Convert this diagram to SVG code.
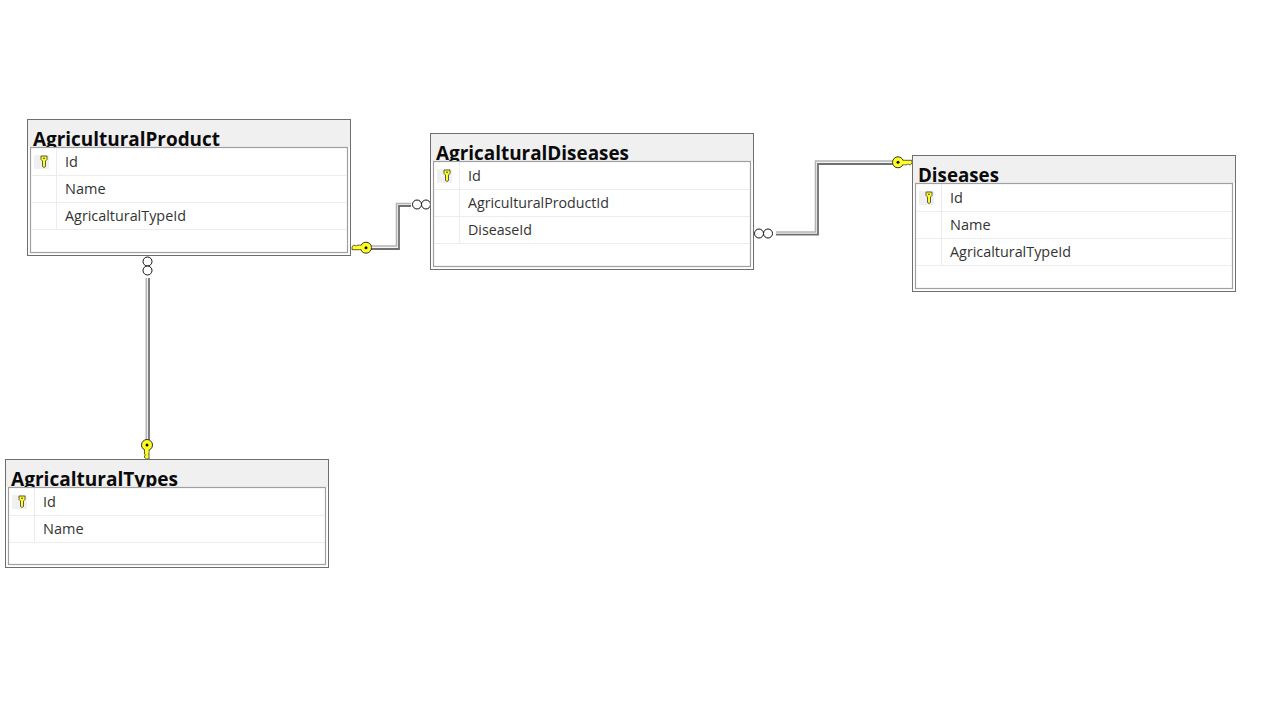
<svg xmlns="http://www.w3.org/2000/svg" xmlns:xlink="http://www.w3.org/1999/xlink" width="1288" height="712" viewBox="0 0 1288 712">
<style>
.outer{fill:#fff;stroke:#6e6e6e;stroke-width:1}
.band{fill:#f0f0f0}
.inner{fill:#fff;stroke:#a0a0a0;stroke-width:1.2}
.rule{stroke:#ececec;stroke-width:1;fill:none}
.cell{fill:#f0f0f0}
.title{font-family:"Open Sans","Liberation Sans",sans-serif;font-weight:700;font-size:20px;fill:#0a0a0a}
.row{font-family:"Open Sans","Liberation Sans",sans-serif;font-size:14.5px;fill:#333}
.light{fill:none;stroke:#b4b4b4;stroke-width:1.6}
.dark{fill:none;stroke:#707070;stroke-width:1.8}
.gap{fill:none;stroke:#f4f4f4;stroke-width:2}
.ring{fill:#fff;stroke:#111;stroke-width:1}
.keyb{fill:#ffff22;stroke:#333;stroke-width:.8}
</style>
<defs>
<g id="pk">
<path d="M-3 -5H3V-1.500L1.500 0V5.500L0 6.500L-1.500 5.500V0L-3 -1.500Z" class="keyb"/>
<circle cx="0" cy="-2.800" r=".8" fill="#222"/>
</g>
<g id="fk">
<path d="M4 -2H14V.5L12.500 2.500H11L10 1.500L9 2.500H4Z" class="keyb"/>
<circle cx="0" cy="0" r="5.500" class="keyb" style="stroke-width:1"/>
<rect x="4" y="-1.500" width="3" height="3.500" fill="#ffff22"/>
<circle cx="0" cy="0" r="1.500" fill="#111"/>
</g>
</defs>
<rect width="1288" height="712" fill="#fff"/>

<g id="connectors">
<g id="product-to-diseases-link">
<path class="gap" d="M371 247.500H397.500V204.700H411"/>
<path class="light" d="M371 246H396.500V203.500H411"/>
<path class="dark" d="M371 249H399V206H411"/>
<circle class="ring" cx="417" cy="204.500" r="4.500"/>
<circle class="ring" cx="426" cy="204.500" r="4.500"/>
<use xlink:href="#fk" href="#fk" transform="translate(366 247.700) rotate(180)"/>
</g>
<g id="link-to-diseases">
<path class="gap" d="M776 233.500H816.500V162.500H893"/>
<path class="light" d="M776 232H815.500V161H893"/>
<path class="dark" d="M776 234.700H818V164H893"/>
<circle class="ring" cx="759" cy="233.500" r="4.500"/>
<circle class="ring" cx="768" cy="233.500" r="4.500"/>
<use xlink:href="#fk" href="#fk" transform="translate(898 162.300)"/>
</g>
<g id="product-to-types">
<path class="gap" d="M147.700 278V440"/>
<path class="light" d="M146.300 278V440"/>
<path class="dark" d="M149 278V440"/>
<circle class="ring" cx="147.500" cy="261.500" r="4.500"/>
<circle class="ring" cx="147.500" cy="270.500" r="4.500"/>
<use xlink:href="#fk" href="#fk" transform="translate(147 445) rotate(90)"/>
</g>
</g>

<g id="AgriculturalProduct" transform="translate(27 119)">
<rect class="outer" x=".5" y=".5" width="323" height="136"/>
<rect class="band" x="1" y="1" width="322" height="27"/>
<text class="title" x="6" y="26.500" textLength="187" lengthAdjust="spacingAndGlyphs">AgriculturalProduct</text>
<rect class="inner" x="3.500" y="28.500" width="317" height="105"/>
<path class="rule" d="M4 56.500H320M4 83.500H320M4 110.500H320M29.500 29V110"/>
<rect class="cell" x="7" y="36" width="15" height="14"/>
<use xlink:href="#pk" href="#pk" x="17" y="42"/>
<text class="row" x="38" y="48">Id</text>
<text class="row" x="38" y="75">Name</text>
<text class="row" x="38" y="102" textLength="121" lengthAdjust="spacingAndGlyphs">AgricalturalTypeId</text>
</g>

<g id="AgricalturalDiseases" transform="translate(430 133)">
<rect class="outer" x=".5" y=".5" width="323" height="136"/>
<rect class="band" x="1" y="1" width="322" height="27"/>
<text class="title" x="6" y="26.500" textLength="193" lengthAdjust="spacingAndGlyphs">AgricalturalDiseases</text>
<rect class="inner" x="3.500" y="28.500" width="317" height="105"/>
<path class="rule" d="M4 56.500H320M4 83.500H320M4 110.500H320M29.500 29V110"/>
<rect class="cell" x="7" y="36" width="15" height="14"/>
<use xlink:href="#pk" href="#pk" x="17" y="42"/>
<text class="row" x="38" y="48">Id</text>
<text class="row" x="38" y="75" textLength="141" lengthAdjust="spacingAndGlyphs">AgriculturalProductId</text>
<text class="row" x="38" y="102" textLength="64" lengthAdjust="spacingAndGlyphs">DiseaseId</text>
</g>

<g id="Diseases" transform="translate(912 155)">
<rect class="outer" x=".5" y=".5" width="323" height="136"/>
<rect class="band" x="1" y="1" width="322" height="27"/>
<text class="title" x="6" y="26.500" textLength="81" lengthAdjust="spacingAndGlyphs">Diseases</text>
<rect class="inner" x="3.500" y="28.500" width="317" height="105"/>
<path class="rule" d="M4 56.500H320M4 83.500H320M4 110.500H320M29.500 29V110"/>
<rect class="cell" x="7" y="36" width="15" height="14"/>
<use xlink:href="#pk" href="#pk" x="17" y="42"/>
<text class="row" x="38" y="48">Id</text>
<text class="row" x="38" y="75">Name</text>
<text class="row" x="38" y="102" textLength="121" lengthAdjust="spacingAndGlyphs">AgricalturalTypeId</text>
</g>

<g id="AgricalturalTypes" transform="translate(5 459)">
<rect class="outer" x=".5" y=".5" width="323" height="108"/>
<rect class="band" x="1" y="1" width="322" height="27"/>
<text class="title" x="6" y="26.500" textLength="167" lengthAdjust="spacingAndGlyphs">AgricalturalTypes</text>
<rect class="inner" x="3.500" y="28.500" width="317" height="77"/>
<path class="rule" d="M4 56.500H320M4 83.500H320M29.500 29V83"/>
<rect class="cell" x="7" y="36" width="15" height="14"/>
<use xlink:href="#pk" href="#pk" x="17" y="42"/>
<text class="row" x="38" y="48">Id</text>
<text class="row" x="38" y="75">Name</text>
</g>
</svg>
